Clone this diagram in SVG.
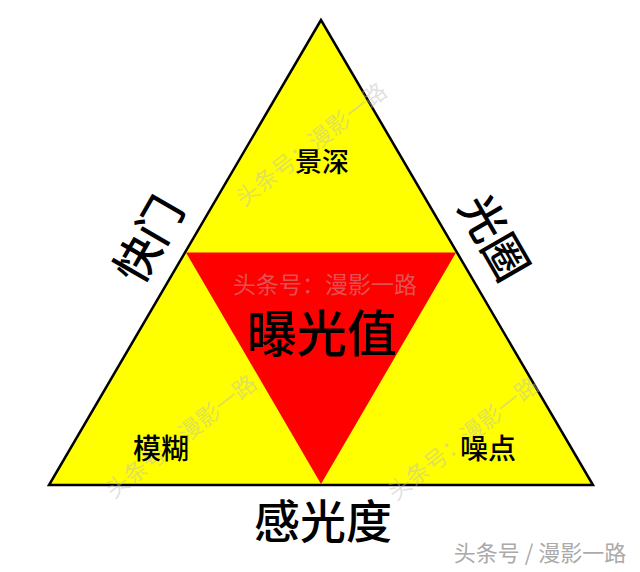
<svg xmlns="http://www.w3.org/2000/svg" width="640" height="572" viewBox="0 0 640 572">
<style>
.t{font-family:"Noto Sans CJK SC","Noto Sans CJK JP",sans-serif;fill:#000;text-anchor:middle;dominant-baseline:central;font-weight:500}
.wm{font-family:"Noto Sans CJK SC",sans-serif;fill:#bbb;fill-opacity:0.45;font-size:23px;text-anchor:middle;dominant-baseline:central}
</style>
<rect width="640" height="572" fill="#fff"/>
<g id="outer"><polygon points="321,20 49,485 593,485" fill="#ffff00" stroke="#000" stroke-width="2.5" stroke-linejoin="miter"/></g>
<g id="inner"><polygon points="186,252.5 456,252.5 321,484" fill="#ff0000"/></g>
<g id="connectors"></g>
<g id="watermarks">
<text class="wm" transform="translate(310,143) rotate(-38)">头条号：漫影一路</text>
<text class="wm" transform="translate(325,283)">头条号：漫影一路</text>
<text class="wm" transform="translate(180,435) rotate(-38)">头条号：漫影一路</text>
<text class="wm" transform="translate(462,437) rotate(-38)">头条号：漫影一路</text>
</g>
<g id="n-jingshen"><text class="t" x="322" y="160" font-size="27">景深</text></g>
<g id="n-puguang"><text class="t" x="322" y="330" font-size="50">曝光值</text></g>
<g id="n-mohu"><text class="t" x="161" y="447" font-size="28">模糊</text></g>
<g id="n-zaodian"><text class="t" x="488" y="447" font-size="28">噪点</text></g>
<g id="n-ganguang"><text class="t" x="323" y="518" font-size="46">感光度</text></g>
<g id="n-kuaimen"><text class="t" transform="translate(146,238) rotate(-60)" font-size="45">快门</text></g>
<g id="n-guangquan"><text class="t" transform="translate(497,236) rotate(60)" font-size="45">光圈</text></g>
<g id="credit"><text x="540" y="551" font-family="Noto Sans CJK SC,sans-serif" font-size="22" fill="#aaa" text-anchor="middle" dominant-baseline="central">头条号 / 漫影一路</text></g>
</svg>
